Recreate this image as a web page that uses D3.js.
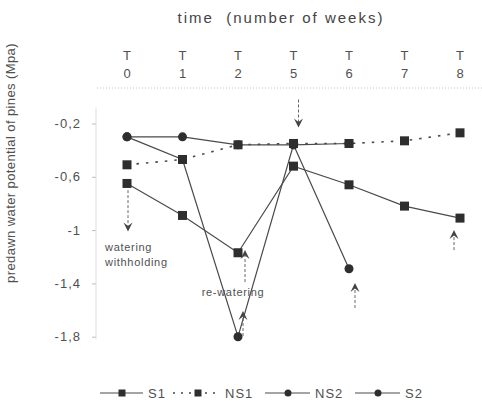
<!DOCTYPE html>
<html>
<head>
<meta charset="utf-8">
<script src="https://cdn.jsdelivr.net/npm/d3@7"></script>
<style>
  html, body { margin: 0; padding: 0; background: #fff; }
  svg { display: block; font-family: "Liberation Sans", Arial, sans-serif; }
</style>
</head>
<body>
<svg id="chart" width="482" height="403"></svg>
<script>
// Sampling weeks (top axis) and predawn water potential (MPa) per series
const weeks = ["0", "1", "2", "5", "6", "7", "8"];
const yTicks = [-0.2, -0.6, -1, -1.4, -1.8];

const s1Values  = [-0.65, -0.89, -1.17, -0.52, -0.66, -0.82, -0.91];
const ns1Values = [-0.51, -0.47, -0.36, -0.35, -0.35, -0.33, -0.27];
const ns2Values = [-0.30, -0.30, -0.36, -0.36, -0.35];
const s2Values  = [-0.30, -0.47, -1.80, -0.36, -1.29];

const seriesNames = ["S1", "NS1", "NS2", "S2"];

// Watering events: week, stem start value, arrow tip value
const arrowWeeks = ["0", "5", "2", "2", "6", "8"];
const arrowFrom  = [-0.70, -0.02, -1.39, -1.795, -1.585, -1.15];
const arrowTo    = [-1.01, -0.23, -1.15, -1.607, -1.397, -1.00];
const arrowNudge = [1, 5, 7, 5, 6, -6];

const svg = d3.select("#chart");
const textColor = "#505050";
const lineColor = "#4a4a4a";
const markColor = "#2e2e2e";

const x = d3.scalePoint().domain(weeks).range([127, 460]);
const y = d3.scaleLinear().domain([-0.2, -1.8]).range([123.5, 336.7]);

const locale = d3.formatLocale({ decimal: ",", thousands: ".", grouping: [3], currency: ["", ""], minus: "-" });
const fmt = locale.format("~g");

// Title
svg.append("text")
  .attr("x", 281).attr("y", 23)
  .attr("text-anchor", "middle")
  .style("white-space", "pre")
  .attr("font-size", 15).attr("letter-spacing", 2)
  .attr("fill", "#444")
  .text("time  (number of weeks)");

// Week labels: "T" over the week number
const wk = svg.append("g").selectAll("g").data(weeks).join("g")
  .attr("transform", d => `translate(${x(d)},0)`);
wk.append("text").attr("y", 60).attr("text-anchor", "middle")
  .attr("font-size", 13).attr("fill", textColor).text("T");
wk.append("text").attr("y", 78).attr("text-anchor", "middle")
  .attr("font-size", 13).attr("fill", textColor).text(d => d);

// Faint dotted rule under the week labels
svg.append("line")
  .attr("x1", 97).attr("x2", 482).attr("y1", 88).attr("y2", 88)
  .attr("stroke", "#c4c4c4").attr("stroke-width", 1).attr("stroke-dasharray", "1,2");

// Left axis
const yAxis = svg.append("g").attr("transform", "translate(96,0)")
  .call(d3.axisLeft(y).tickValues(yTicks).tickFormat(fmt).tickSize(4).tickPadding(11));
yAxis.select(".domain").remove();
yAxis.selectAll(".tick line").attr("stroke", "#bbb");
yAxis.selectAll(".tick text")
  .attr("font-size", 13).attr("letter-spacing", 1)
  .attr("fill", textColor).attr("font-family", "Liberation Sans, Arial, sans-serif");
svg.append("line")
  .attr("x1", 96).attr("x2", 96).attr("y1", y(-0.08)).attr("y2", y(-1.82))
  .attr("stroke", "#ddd").attr("stroke-width", 1);

// Y title
svg.append("text")
  .attr("transform", "translate(15,163) rotate(-90)")
  .attr("text-anchor", "middle")
  .attr("font-size", 13).attr("letter-spacing", 0.4)
  .attr("fill", textColor)
  .text("predawn water potential of pines (Mpa)");

// Series
const series = [
  { name: "S1",  values: s1Values,  dash: null,    marker: "square" },
  { name: "NS1", values: ns1Values, dash: "2.5,7", marker: "square" },
  { name: "NS2", values: ns2Values, dash: null,    marker: "circle" },
  { name: "S2",  values: s2Values,  dash: null,    marker: "circle" }
];

const line = d3.line().x((d, i) => x(weeks[i])).y(d => y(d));

svg.append("g").selectAll("path").data(series).join("path")
  .attr("d", s => line(s.values))
  .attr("fill", "none")
  .attr("stroke", lineColor)
  .attr("stroke-width", s => s.dash ? 1.6 : 1.2)
  .attr("stroke-dasharray", s => s.dash);

function drawMarker(g, type, cx, cy, size) {
  if (type === "square") {
    g.append("rect").attr("x", cx - size / 2).attr("y", cy - size / 2)
      .attr("width", size).attr("height", size).attr("fill", markColor);
  } else {
    g.append("circle").attr("cx", cx).attr("cy", cy).attr("r", size / 2).attr("fill", markColor);
  }
}

const marks = svg.append("g");
[series[3], series[2], series[0], series[1]].forEach(s => {
  s.values.forEach((v, i) => drawMarker(marks, s.marker, x(weeks[i]), y(v), 9));
});

// Watering arrows: dashed stem with a solid head
const arrowG = svg.append("g");
arrowWeeks.forEach((w, i) => {
  const ax = x(w) + arrowNudge[i];
  const y0 = y(arrowFrom[i]);
  const y1 = y(arrowTo[i]);
  const dir = y1 > y0 ? 1 : -1;
  const headLen = 9;
  arrowG.append("line")
    .attr("x1", ax).attr("x2", ax).attr("y1", y0).attr("y2", y1 - dir * headLen * 0.6)
    .attr("stroke", "#666").attr("stroke-width", 1).attr("stroke-dasharray", "3,2");
  const p = d3.path();
  p.moveTo(ax, y1);
  p.lineTo(ax - 4.5, y1 - dir * headLen);
  p.lineTo(ax, y1 - dir * headLen * 0.6);
  p.lineTo(ax + 4.5, y1 - dir * headLen);
  p.closePath();
  arrowG.append("path").attr("d", p.toString()).attr("fill", "#444");
});

// Annotations
const note = svg.append("g").attr("font-size", 11).attr("letter-spacing", 0.7).attr("fill", textColor);
note.append("text").attr("x", 105).attr("y", 251).text("watering");
note.append("text").attr("x", 105).attr("y", 266).text("withholding");
note.append("text").attr("x", 233).attr("y", 296).attr("text-anchor", "middle").text("re-watering");

// Legend
const legendLines = [[100, 143], [173, 220], [265, 310], [355, 400]];
const legendMarks = [122, 198, 288, 378];
const legendText  = [148, 225, 315, 405];
const ly = 393;
const leg = svg.append("g");
series.forEach((s, i) => {
  leg.append("line")
    .attr("x1", legendLines[i][0]).attr("x2", legendLines[i][1])
    .attr("y1", ly).attr("y2", ly)
    .attr("stroke", lineColor).attr("stroke-width", s.dash ? 1.4 : 1)
    .attr("stroke-dasharray", s.dash ? "2,6" : null);
  drawMarker(leg, s.marker, legendMarks[i], ly, 7);
  leg.append("text")
    .attr("x", legendText[i]).attr("y", ly + 5)
    .attr("font-size", 13).attr("letter-spacing", 1)
    .attr("fill", textColor).text(seriesNames[i]);
});
</script>
</body>
</html>
